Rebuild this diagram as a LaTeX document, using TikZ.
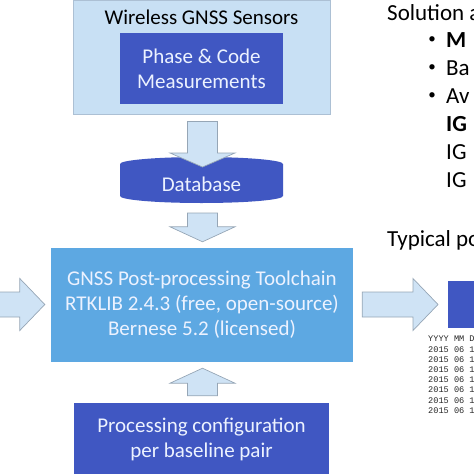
\documentclass[tikz,border=0pt]{standalone}
\usepackage{fontspec}
\setmainfont{Carlito}
\newfontfamily\logfont{Liberation Mono}
\usepackage{tikz}
\usetikzlibrary{calc,positioning}
\definecolor{paleblue}{RGB}{200,224,244}
\definecolor{paleedge}{RGB}{172,192,212}
\definecolor{deepblue}{RGB}{64,87,194}
\definecolor{skyblue}{RGB}{93,168,226}
\definecolor{arrowfill}{RGB}{207,227,245}
\definecolor{arrowedge}{RGB}{150,166,182}
\definecolor{boxwhite}{RGB}{236,242,255}

% block arrow: tail, tip, shaft half width, head half width, head length
\newcommand{\blockarrow}[5]{%
  \coordinate (ba-h) at ($(#2)!#5!(#1)$);
  \draw[flowarrow] ($(#1)!#3!90:(#2)$) -- ($(ba-h)!#3!90:(#2)$) -- ($(ba-h)!#4!90:(#2)$)
    -- (#2) -- ($(ba-h)!#4!-90:(#2)$) -- ($(ba-h)!#3!-90:(#2)$) -- ($(#1)!#3!-90:(#2)$) -- cycle;}

\begin{document}
\begin{tikzpicture}[
  x=1pt, y=1pt,
  every node/.style={font=\fontsize{21}{25}\selectfont, align=center, inner sep=0pt},
  panel/.style={fill=paleblue, draw=paleedge, line width=0.8pt},
  darkbox/.style={fill=deepblue, text=boxwhite},
  toolbox/.style={fill=skyblue, text=boxwhite},
  flowarrow/.style={fill=arrowfill, draw=arrowedge, line width=0.7pt, line join=miter},
  sidetext/.style={anchor=west, font=\fontsize{23}{27}\selectfont},
  dot/.style={font=\fontsize{15}{15}\selectfont},
  logtext/.style={anchor=north west, align=left, text=black!85, font=\logfont\fontsize{8.6}{10.2}\selectfont}
]
  \useasboundingbox (0,0) rectangle (474,-474);
  \clip (0,0) rectangle (474,-474);

  % Sensors panel with measurements inside
  \node[panel, minimum width=257pt, minimum height=114pt] (sensors) at (201.5,-57) {};
  \node (sensorstitle) at (201.5,-17) {Wireless GNSS Sensors};
  \node[darkbox, minimum width=163pt, minimum height=71pt] (meas) at (201.5,-68.5) {Phase \& Code\\Measurements};

  % Database cylinder
  \coordinate (dbtop) at (201.5,-157);
  \coordinate (dbbottom) at (201.5,-203);
  \fill[deepblue] (120,-164) arc[start angle=180, end angle=0, x radius=81.5pt, y radius=7pt]
    -- (283,-196) arc[start angle=0, end angle=-180, x radius=81.5pt, y radius=7pt] -- cycle;
  \node[text=boxwhite] (db) at (201.5,-184) {Database};

  % Toolchain, config and output
  \node[toolbox, minimum width=302pt, minimum height=114pt] (toolchain) at (202,-305)
    {GNSS Post-processing Toolchain\\RTKLIB 2.4.3 (free, open-source)\\Bernese 5.2 (licensed)};
  \node[darkbox, minimum width=255pt, minimum height=73pt] (config) at (201.5,-439.5)
    {Processing configuration\\per baseline pair};
  \node[darkbox, minimum width=60pt, minimum height=47pt, anchor=west] (output) at (448,-304) {};

  % Block arrows between the stages
  \blockarrow{$(sensors.south)+(1,-7)$}{$(dbtop)+(1,-10)$}{15pt}{32.5pt}{14pt}
  \blockarrow{$(dbbottom)+(1,-10)$}{$(toolchain.north)+(0.5,6)$}{15pt}{32.5pt}{15pt}
  \blockarrow{$(config.north)+(1,7)$}{$(toolchain.south)+(0.5,-6)$}{15pt}{32.5pt}{15pt}
  \blockarrow{-12,-304.5}{$(toolchain.west)+(-6,0.5)$}{12.5pt}{26pt}{25pt}
  \blockarrow{$(toolchain.east)+(9,0.5)$}{$(output.west)+(-10,-0.5)$}{12.5pt}{26pt}{25pt}

  % Log excerpt below the output box
  \node[logtext] (log) at (428,-336) {YYYY MM D\\2015 06 1.\\2015 06 1.\\2015 06 1.\\2015 06 1.\\2015 06 1.\\2015 06 1.\\2015 06 1.};

  % Side notes
  \node[sidetext] (soltitle) at (387,-13) {Solution a};
  \node[dot] (dot1) at (432,-40.5) {\textbullet};
  \node[dot] (dot2) at (432,-68) {\textbullet};
  \node[dot] (dot3) at (432,-96) {\textbullet};
  \node[sidetext] (item1) at (446,-40.5) {\textbf{M}};
  \node[sidetext] (item2) at (446,-68) {Ba};
  \node[sidetext] (item3) at (446,-96) {Av};
  \node[sidetext] (igs1) at (446,-124) {\textbf{IG}};
  \node[sidetext] (igs2) at (446,-152) {IG};
  \node[sidetext] (igs3) at (446,-180) {IG};
  \node[sidetext] (typtitle) at (387,-240) {Typical po};
\end{tikzpicture}
\end{document}
